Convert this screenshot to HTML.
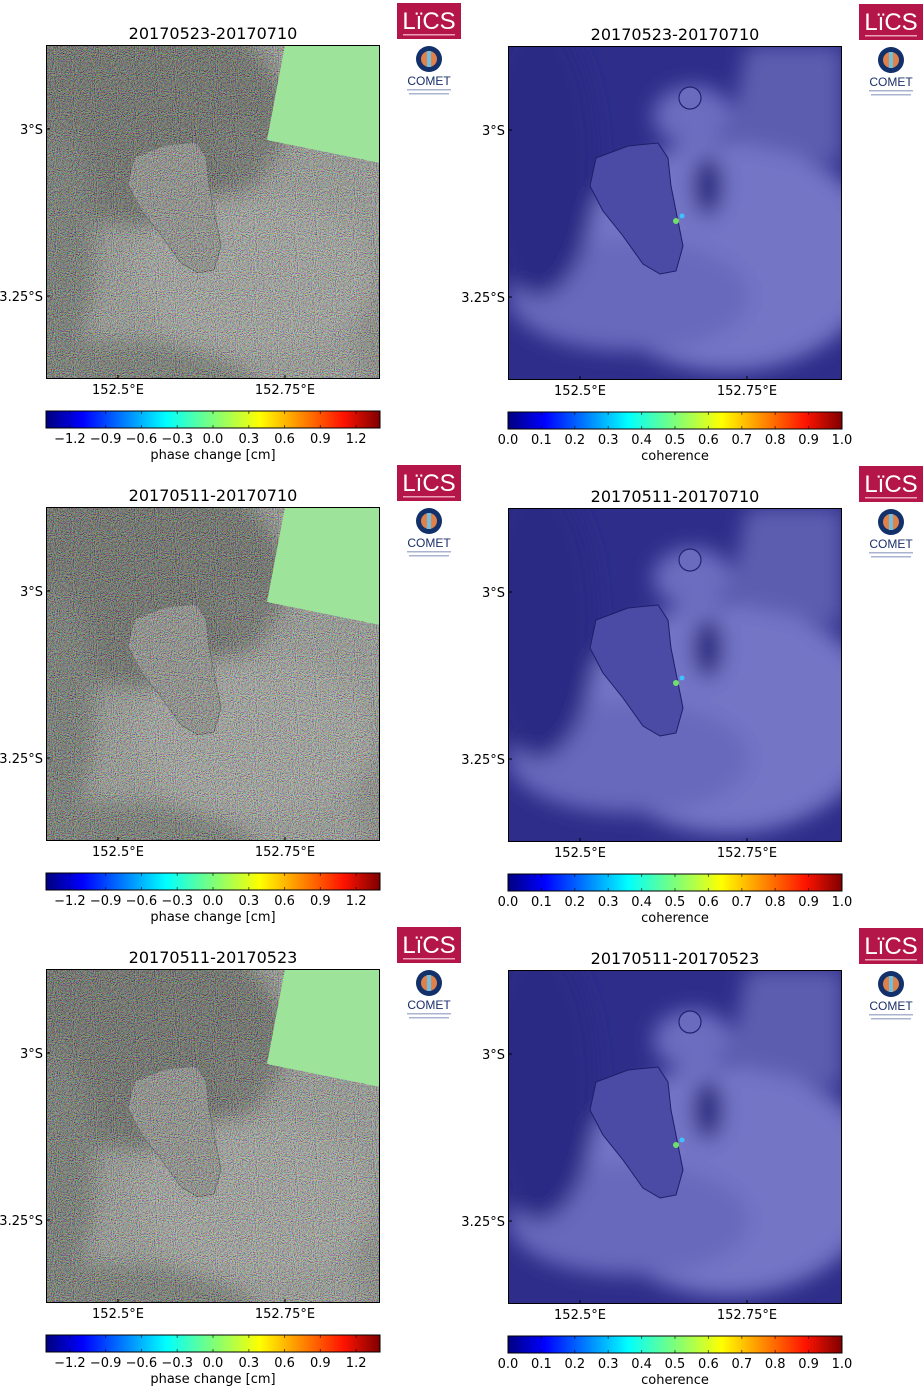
<!DOCTYPE html>
<html><head><meta charset="utf-8"><style>
html,body{margin:0;padding:0;background:#fff;width:924px;height:1386px;overflow:hidden}
svg{display:block;font-family:"DejaVu Sans","Liberation Sans",sans-serif}
</style></head><body>
<svg id="root" width="924" height="1386" viewBox="0 0 924 1386">
<defs>
<filter id="noise" x="0" y="0" width="100%" height="100%">
<feTurbulence type="fractalNoise" baseFrequency="0.95" numOctaves="1" seed="3" result="t"/>
<feColorMatrix type="matrix" values="3 0 0 0 -1  0 3 0 0 -1  0 0 3 0 -1  0 0 0 0 0.5"/>
</filter>
<filter id="blur6"><feGaussianBlur stdDeviation="10"/></filter>
<linearGradient id="jet" x1="0" x2="1" y1="0" y2="0">
<stop offset="0" stop-color="#00007f"/><stop offset="0.11" stop-color="#0000ff"/>
<stop offset="0.36" stop-color="#00ffff"/><stop offset="0.5" stop-color="#7dff7a"/>
<stop offset="0.64" stop-color="#ffff00"/><stop offset="0.89" stop-color="#ff1300"/>
<stop offset="1" stop-color="#7f0000"/></linearGradient>
<clipPath id="mapclip"><rect x="0" y="0" width="334" height="334"/></clipPath>
</defs>
</svg>
<script>
const phaseTicks=[-1.2,-0.9,-0.6,-0.3,0.0,0.3,0.6,0.9,1.2];
const phaseRange=[-1.4,1.4];
const cohTicks=[0.0,0.1,0.2,0.3,0.4,0.5,0.6,0.7,0.8,0.9,1.0];
const cohRange=[0,1];
const titles=["20170523-20170710","20170511-20170710","20170511-20170523"];
const latTicks=["3°S","3.25°S"];
const latPos=[84,251];
const lonTicks=["152.5°E","152.75°E"];
const lonPos=[72,239];
const NS="http://www.w3.org/2000/svg";
const root=document.getElementById('root');
function el(tag,attrs,parent){const e=document.createElementNS(NS,tag);for(const k in attrs)e.setAttribute(k,attrs[k]);(parent||root).appendChild(e);return e;}
function txt(s,attrs,parent){const t=el('text',attrs,parent);t.textContent=s;return t;}
const island="88,112 120,100 150,97 160,112 163,140 168,165 175,200 168,225 152,228 135,218 115,190 95,165 82,140";
function map(x,y,kind,name){
  const g=el('g',{transform:`translate(${x},${y})`,'clip-path':'url(#mapclip)'});
  
  
  if(kind==='phase'){
    el('rect',{x:0,y:0,width:334,height:334,fill:'#80857c'},g);
    const d=el('g',{filter:'url(#blur6)'},g);
    el('ellipse',{cx:90,cy:70,rx:150,ry:110,fill:'#3e4338'},d);
    el('ellipse',{cx:10,cy:200,rx:40,ry:120,fill:'#4c5248'},d);
    el('ellipse',{cx:60,cy:345,rx:150,ry:50,fill:'#4e544a'},d);
    el('ellipse',{cx:330,cy:280,rx:20,ry:80,fill:'#6a6e66'},d);
    el('ellipse',{cx:200,cy:105,rx:28,ry:25,fill:'#454a40'},d);
    el('ellipse',{cx:190,cy:155,rx:12,ry:40,fill:'#454a40',transform:'rotate(30 190 155)'},d);
    el('ellipse',{cx:210,cy:230,rx:120,ry:80,fill:'#8e928a'},d);
    el('polygon',{points:island,fill:'#73766e',stroke:'#333','stroke-width':1},g);
    el('circle',{cx:182,cy:52,r:11,fill:'none',stroke:'#333','stroke-width':1.2},g);
    el('rect',{x:0,y:0,width:334,height:334,filter:'url(#noise)'},g);
    el('polygon',{points:"239,0 334,0 334,118 221,95",fill:'#9de39a'},g);
  } else {
    el('rect',{x:0,y:0,width:334,height:334,fill:'#2e2e8a'},g);
    const d=el('g',{filter:'url(#blur6)'},g);
    el('ellipse',{cx:220,cy:210,rx:150,ry:115,fill:'#7474c6'},d);
    el('ellipse',{cx:120,cy:250,rx:120,ry:55,fill:'#6868bc'},d);
    el('ellipse',{cx:185,cy:70,rx:40,ry:30,fill:'#6c6cc0'},d);
    el('polygon',{points:"239,0 334,0 334,118 221,95",fill:'#5d5db0'},d);
    el('ellipse',{cx:200,cy:140,rx:15,ry:30,fill:'#2a2a80'},d);
    el('ellipse',{cx:30,cy:110,rx:60,ry:140,fill:'#2b2b85'},d);
    el('polygon',{points:island,fill:'#4b4ba6',stroke:'#1e1e6a','stroke-width':1},g);
    el('circle',{cx:182,cy:52,r:11,fill:'#6a6abf',stroke:'#222270','stroke-width':1.2},g);
    el('circle',{cx:168,cy:175,r:3,fill:'#6fe06a'},g);
    el('circle',{cx:174,cy:170,r:2.5,fill:'#3fc0ff'},g);
  }
  el('rect',{x:0.5,y:0.5,width:333,height:333,fill:'none',stroke:'#000','stroke-width':1},g);
  return g;
}
function axes(x,y,title,prefix){
  txt(title,{x:x+167,y:y-6,'text-anchor':'middle','font-size':16,fill:'#000',});
  latTicks.forEach((l,i)=>{
    const t=txt(l,{x:x-3,y:y+latPos[i]+5,'text-anchor':'end','font-size':13,fill:'#000'});
    
    
    el('line',{x1:x,x2:x+4,y1:y+latPos[i],y2:y+latPos[i],stroke:'#000'});
  });
  lonTicks.forEach((l,i)=>{
    const t=txt(l,{x:x+lonPos[i],y:y+349,'text-anchor':'middle','font-size':13,fill:'#000'});
    
    
    el('line',{x1:x+lonPos[i],x2:x+lonPos[i],y1:y+334,y2:y+330,stroke:'#000'});
  });
}
function colorbar(x,y,ticks,range,label,prefix){
  const w=334,h=17;
  const g=el('g',{});
  
  
  el('rect',{x:x,y:y,width:w,height:h,fill:'url(#jet)',stroke:'#000','stroke-width':1},g);
  const sx=v=>x+(v-range[0])/(range[1]-range[0])*w;
  ticks.forEach(v=>{
    const px=sx(v);
    el('line',{x1:px,x2:px,y1:y,y2:y+3,stroke:'#000','stroke-opacity':0.6},g);
    el('line',{x1:px,x2:px,y1:y+h,y2:y+h-3,stroke:'#000','stroke-opacity':0.6},g);
    const t=txt((v<0?'\u2212':'')+Math.abs(v).toFixed(1),{x:px,y:y+32,'text-anchor':'middle','font-size':13,fill:'#000'},g);
    
    
  });
  txt(label,{x:x+w/2,y:y+48,'text-anchor':'middle','font-size':13,fill:'#000'},g);
}
function logos(x,y,prefix){
  const g=el('g',{transform:`translate(${x},${y})`});
  
  
  el('rect',{x:0,y:0,width:64,height:36,fill:'#b5164a'},g);
  txt('LïCS',{x:32,y:26,'text-anchor':'middle','font-size':24,fill:'#fff','font-family':'Liberation Sans'},g);
  el('rect',{x:6,y:31,width:52,height:1.5,fill:'#e9a0b8'},g);
  el('circle',{cx:32,cy:56,r:13,fill:'#12306a'},g);
  el('circle',{cx:32,cy:56,r:8,fill:'#e0804a'},g);
  el('rect',{x:30,y:48,width:4,height:16,fill:'#6fc0e0'},g);
  txt('COMET',{x:32,y:82,'text-anchor':'middle','font-size':12,fill:'#1a2f6a','font-family':'Liberation Sans'},g);
  el('rect',{x:10,y:86,width:44,height:1.5,fill:'#aab4d0'},g);
  el('rect',{x:12,y:90,width:40,height:1.5,fill:'#aab4d0'},g);
}
const rowOff=[0,462,924];
rowOff.forEach((o,r)=>{
  map(46,45+o,'phase','phase-map-'+(r+1));
  axes(46,45+o,titles[r],'phase-'+(r+1));
  colorbar(46,411+o,phaseTicks,phaseRange,'phase change [cm]','phase-'+(r+1));
  logos(397,3+o,'left-'+(r+1));
  map(508,46+o,'coh','coherence-map-'+(r+1));
  axes(508,46+o,titles[r],'coherence-'+(r+1));
  colorbar(508,412+o,cohTicks,cohRange,'coherence','coherence-'+(r+1));
  logos(859,4+o,'right-'+(r+1));
});
</script>
</body></html>
